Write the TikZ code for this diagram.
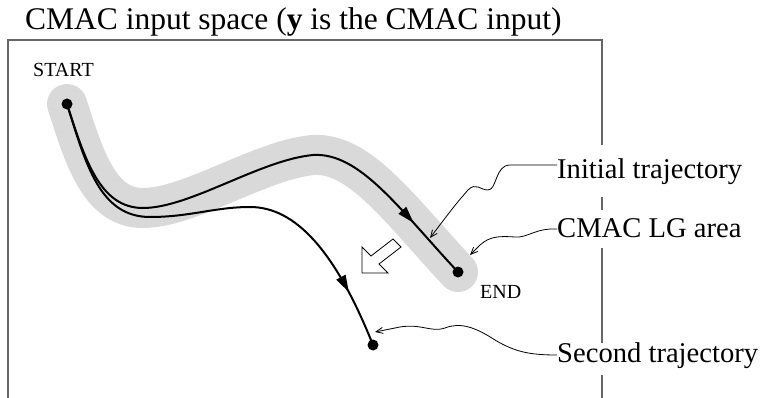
\documentclass[tikz,border=0pt]{standalone}
\usepackage{fontspec}
\setmainfont{Liberation Serif}
\usetikzlibrary{arrows.meta,decorations.markings}
\tikzset{
  frameline/.style={draw=black!60, line width=1.2pt},
  band/.style={draw=black!15, line width=40pt, line cap=round},
  traj/.style={draw=black, line width=2pt},
  dotmark/.style={circle, fill=black, inner sep=0pt, minimum size=11pt},
  pointer/.style={draw=black, line width=0.8pt, -{Straight Barb[length=7pt,width=6pt]}},
  lbl/.style={font=\fontsize{28.6}{32}\selectfont, inner sep=0pt, anchor=base west},
  small/.style={font=\fontsize{20}{22}\selectfont, inner sep=0pt, anchor=base west},
  midarrow/.style={postaction={decorate, decoration={markings, mark=at position #1 with {\arrow{Triangle[length=17pt,width=10pt]}}}}}
}
\begin{document}
\begin{tikzpicture}[x=1pt,y=-1pt]
\useasboundingbox (0,0) rectangle (763,398);
% title
\node[font=\fontsize{31.5}{34}\selectfont, inner sep=0pt, anchor=base west] (title) at (25,30) {CMAC input space (\textbf{y} is the CMAC input)};
% frame
\draw[frameline] (8,398) -- (8,40) -- (602,40) -- (602,145);
\draw[frameline] (602,197) -- (602,210);
\draw[frameline] (602,248) -- (602,343);
\draw[frameline] (602,375) -- (602,398);
% coordinates
\coordinate (S) at (67,104);
\coordinate (E) at (458,272);
\coordinate (E2) at (373,345);
% band
\draw[band] (S) .. controls (85,160) and (100,208) .. (143,208)
  .. controls (190,208) and (260,160) .. (313,155)
  .. controls (360,152) and (400,210) .. (E);
% hollow arrow
\draw[line width=0.8pt, fill=white] (362,273) -- (362,247) -- (371,256) -- (393,239) -- (401,247) -- (379,264) -- (388,273) -- cycle;
% initial trajectory
\draw[traj, midarrow=0.87] (S) .. controls (85,160) and (100,208) .. (143,208)
  .. controls (190,208) and (260,160) .. (313,155)
  .. controls (360,152) and (400,210) .. (E);
% second trajectory
\draw[traj, midarrow=0.87] (S) .. controls (86,165) and (100,217) .. (150,217)
  .. controls (190,217) and (215,207) .. (250,207)
  .. controls (295,207) and (335,250) .. (E2);
\node[dotmark] (sdot) at (S) {};
\node[dotmark] (edot) at (E) {};
\node[dotmark] (e2dot) at (E2) {};
% small labels
\node[small] (start) at (33,77) {START};
\node[small] (end) at (480,298) {END};
% labels
\node[lbl] (l1) at (557,179) {Initial trajectory};
\node[lbl] (l2) at (557,238) {CMAC LG area};
\node[lbl] (l3) at (557,362) {Second trajectory};
\coordinate (t1) at (430,238);
\coordinate (t2) at (470,255);
\coordinate (t3) at (375,332);
\draw[pointer] (l1.west |- 0,165) -- (510,165) .. controls (495,165) and (497,190) .. (488,190)
  .. controls (480,190) and (476,182) .. (468,190) .. controls (455,205) .. (t1);
\draw[pointer] (l2.west |- 0,229) .. controls (535,228) and (528,238) .. (515,237)
  .. controls (500,236) and (490,236) .. (480,245) -- (t2);
\draw[pointer] (l3.west |- 0,355) .. controls (530,355) and (515,352) .. (495,340)
  .. controls (475,327) and (460,322) .. (445,328) .. controls (430,333) and (420,322) .. (395,328) -- (t3);
\end{tikzpicture}
\end{document}
